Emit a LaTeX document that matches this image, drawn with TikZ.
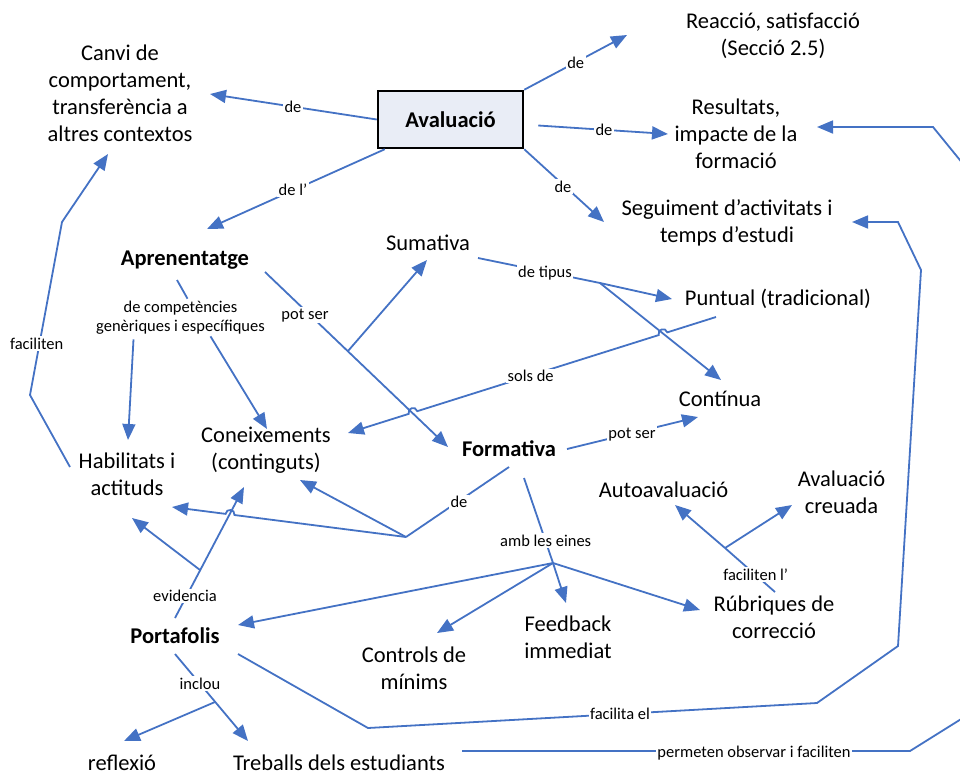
\documentclass[tikz,border=0pt]{standalone}
\usepackage{fontspec}
\setmainfont{Carlito}
\usetikzlibrary{arrows.meta,calc}
\definecolor{linkblue}{RGB}{68,114,196}
\definecolor{boxfill}{RGB}{233,237,246}
\begin{document}
\begin{tikzpicture}[x=1pt,y=-1pt,
  concept/.style={align=center,inner sep=0pt,font=\fontsize{22.5}{27}\selectfont},
  keyconcept/.style={align=center,inner sep=0pt,font=\fontsize{22.5}{27}\selectfont\bfseries},
  rootbox/.style={draw=black,line width=2.5pt,fill=boxfill,minimum width=145pt,minimum height=57pt,inner sep=0pt,font=\fontsize{22.5}{27}\selectfont\bfseries},
  link/.style={draw=linkblue,line width=1.8pt},
  arr/.style={link,-{Triangle[length=16pt,width=13pt]}},
  lbl/.style={fill=white,inner sep=1.5pt,align=center,font=\fontsize{16.5}{19}\selectfont},
]
\useasboundingbox (0,0) rectangle (960,774);

% ---------- concepts ----------
\node[rootbox] (aval) at (450.5,119.5) {Avaluació};
\node[concept] (canvi) at (120,93) {Canvi de\\comportament,\\transferència a\\altres contextos};
\node[concept] (reac) at (773,36) {Reacció, satisfacció\\(Secció 2.5)};
\node[concept] (res) at (736,134) {Resultats,\\impacte de la\\formació};
\node[concept] (seg) at (727,223) {Seguiment d’activitats i\\temps d’estudi};
\node[keyconcept,anchor=base] (aprn) at (185,265) {Aprenentatge};
\node[concept,anchor=base] (sum) at (428,250) {Sumativa};
\node[concept,anchor=base] (punt) at (778,305) {Puntual (tradicional)};
\node[concept,anchor=base] (cont) at (720,406) {Contínua};
\node[keyconcept,anchor=base] (form) at (509,456) {Formativa};
\node[concept] (coneix) at (266,450) {Coneixements\\(continguts)};
\node[concept] (habil) at (127,474) {Habilitats i\\actituds};
\node[concept,anchor=base] (autoav) at (663.5,497) {Autoavaluació};
\node[concept] (creu) at (841.5,492) {Avaluació\\creuada};
\node[concept] (rub) at (774,617) {Rúbriques de\\correcció};
\node[concept] (feed) at (568,637) {Feedback\\immediat};
\node[concept] (ctrl) at (414,668) {Controls de\\mínims};
\node[keyconcept,anchor=base] (port) at (175,643) {Portafolis};
\node[concept,anchor=base] (refl) at (122,770) {reflexió};
\node[concept,anchor=base] (treb) at (339,770) {Treballs dels estudiants};

% two-line link label that branches
\node[lbl] (lcomp) at (180.5,318) {de competències\\genèriques i específiques};

% ---------- branch points ----------
\coordinate (bP) at (348,351);
\coordinate (bT) at (600,283);
\coordinate (bD) at (406,537);
\coordinate (bA) at (553,563);
\coordinate (bF) at (725,548);
\coordinate (bE) at (200,570);
\coordinate (bI) at (215,702);

% ---------- links from Avaluació ----------
\draw[arr] (aval.west) -- ($(canvi)+(90,1)$);
\draw[arr] (aval.north east) -- ($(reac)+(-146,-1)$);
\draw[arr] ($(aval.east)+(14,6)$) -- ($(res)+(-68,0)$);
\draw[arr] (aval.south east) -- ($(seg)+(-123,-1)$);
\draw[arr] ($(aval.south west)+(8,0)$) -- ($(aprn.base)+(22,-36)$);

% ---------- Aprenentatge ----------
\draw[link] ($(aprn.base)+(-8,15)$) -- ($(lcomp.north)+(7,-1)$);
\draw[arr] ($(lcomp.south)+(-47,3)$) -- ($(habil)+(1,-34)$);
\draw[arr] ($(lcomp.south)+(30,0)$) -- ($(coneix)+(1,-21)$);
\draw[arr] ($(aprn.base)+(80,7)$) -- ($(form.base)+(-61,-9)$);
\draw[arr] (bP) -- ($(sum.base)+(-1,10)$);

% ---------- Sumativa ----------
\draw[arr] ($(sum.base)+(50,8)$) -- (bT) -- ($(punt.base)+(-106,-6)$);
\draw[arr] (bT) -- ($(cont.base)+(1,-26)$);

% ---------- Puntual -> Coneixements, hopping over two links ----------
\coordinate (sS) at ($(punt.base)+(-62,12)$);
\coordinate (sT) at ($(coneix)+(82,-17)$);
\coordinate (sH1) at ($(sS)!0.144!(sT)$);
\coordinate (sH2) at ($(sS)!0.8234!(sT)$);
\draw[arr] (sS) -- ($(sH1)!4.5pt!(sS)$)
  .. controls ($(sH1)!4.5pt!(sS)!6pt!90:(sS)$) and ($(sH1)!4.5pt!(sT)!6pt!-90:(sT)$) .. ($(sH1)!4.5pt!(sT)$)
  -- ($(sH2)!4.5pt!(sS)$)
  .. controls ($(sH2)!4.5pt!(sS)!6pt!90:(sS)$) and ($(sH2)!4.5pt!(sT)!6pt!-90:(sT)$) .. ($(sH2)!4.5pt!(sT)$)
  -- (sT);

% ---------- Formativa ----------
\draw[arr] ($(form.base)+(58,-7)$) -- ($(cont.base)+(-22,11)$);
\draw[link] ($(form.base)+(0,11)$) -- (bD);
\draw[arr] (bD) -- ($(coneix)+(34,30)$);
\coordinate (dT) at ($(habil)+(45,33)$);
\coordinate (dH) at ($(bD)!0.752!(dT)$);
\draw[arr] (bD) -- ($(dH)!4.5pt!(bD)$)
  .. controls ($(dH)!4.5pt!(bD)!6pt!90:(bD)$) and ($(dH)!4.5pt!(dT)!6pt!-90:(dT)$) .. ($(dH)!4.5pt!(dT)$)
  -- (dT);
\draw[link] ($(form.base)+(15,22)$) -- (bA);
\draw[arr] (bA) -- ($(feed)+(-2,-34)$);
\draw[arr] (bA) -- ($(rub)+(-74,-7)$);
\draw[arr] (bA) -- ($(ctrl)+(23,-35)$);
\draw[arr] (bA) -- ($(port.base)+(63,-18)$);

% ---------- Rúbriques ----------
\draw[link] ($(rub)+(1,-25)$) -- (bF);
\draw[arr] (bF) -- ($(autoav.base)+(11.5,8)$);
\draw[arr] (bF) -- ($(creu)+(-49.5,13)$);

% ---------- Portafolis ----------
\draw[arr] ($(port.base)+(0,-25)$) -- ($(coneix)+(-22,37)$);
\draw[arr] (bE) -- ($(habil)+(5,44)$);
\draw[arr] ($(port.base)+(0,11)$) -- ($(treb.base)+(-91,-29)$);
\draw[arr] (bI) -- ($(refl.base)+(2,-29)$);
\draw[arr] ($(port.base)+(63,11)$) -- (368,728) -- (817,703) -- (898,646)
  -- (921,270) -- (898,222) -- ($(seg)+(125,-1)$);

% ---------- Treballs -> Resultats (runs past the right edge) ----------
\draw[arr] ($(treb.base)+(123,-19)$) -- (910,751) -- (990,701) -- (990,197)
  -- (933,127) -- ($(res)+(81,-7)$);

% ---------- Habilitats -> Canvi ----------
\draw[arr] ($(habil)+(-57,-7)$) -- (30,395) -- (62,222) -- ($(canvi)+(-12,61)$);

% ---------- link labels ----------
\node[lbl,anchor=base] (l01) at (293,112.7) {de};
\node[lbl,anchor=base] (l02) at (575.7,68) {de};
\node[lbl,anchor=base] (l03) at (604,135) {de};
\node[lbl,anchor=base] (l04) at (563,192) {de};
\node[lbl,anchor=base] (l05) at (293,195) {de l’};
\node[lbl,anchor=base] (l06) at (305,319) {pot ser};
\node[lbl,anchor=base] (l07) at (545,277) {de tipus};
\node[lbl,anchor=base] (l08) at (530.7,381.7) {sols de};
\node[lbl,anchor=base] (l09) at (632,438) {pot ser};
\node[lbl,anchor=base] (l10) at (459,507.7) {de};
\node[lbl,anchor=base] (l11) at (545.7,546) {amb les eines};
\node[lbl,anchor=base] (l12) at (755.7,580) {faciliten l’};
\node[lbl,anchor=base] (l13) at (185,601.7) {evidencia};
\node[lbl,anchor=base] (l14) at (200,689) {inclou};
\node[lbl,anchor=base] (l15) at (620,719) {facilita el};
\node[lbl,anchor=base] (l16) at (754,757) {permeten observar i faciliten};
\node[lbl,anchor=base] (l17) at (36.7,349) {faciliten};
\end{tikzpicture}
\end{document}
